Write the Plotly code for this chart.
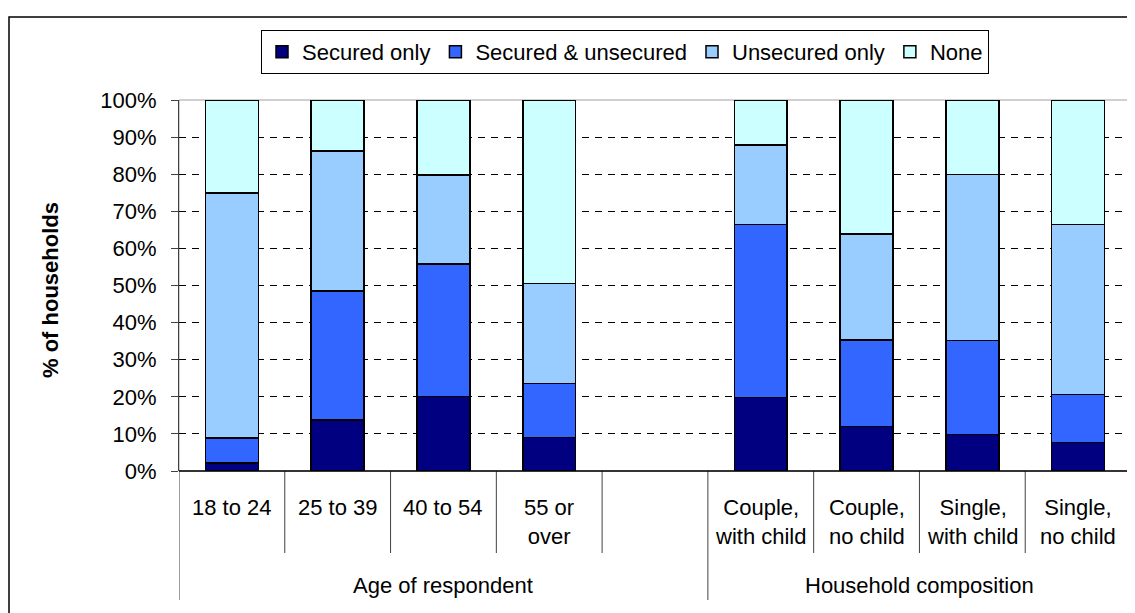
import plotly.graph_objects as go

# ---- data ----
categories = ["18 to 24", "25 to 39", "40 to 54", "55 or<br>over", "",
              "Couple,<br>with child", "Couple,<br>no child", "Single,<br>with child", "Single,<br>no child"]
groups = ["Age of respondent"] * 5 + ["Household composition"] * 4
series_names = ["Secured only", "Secured & unsecured", "Unsecured only", "None"]
secured_only = [2.1, 13.7, 20.1, 9.0, None, 19.8, 12.0, 9.8, 7.7]
secured_and_unsecured = [6.8, 34.8, 35.7, 14.6, None, 46.7, 23.3, 25.4, 12.9]
unsecured_only = [66.1, 37.7, 24.0, 27.0, None, 21.4, 28.6, 44.7, 45.9]
none_ = [25.0, 13.8, 20.2, 49.4, None, 12.1, 36.1, 20.1, 33.5]
y_ticks = [0, 10, 20, 30, 40, 50, 60, 70, 80, 90, 100]
y_tick_labels = [f"{v}%" for v in y_ticks]
y_title = "% of households"

colors = ["#000080", "#3366FF", "#99CCFF", "#CCFFFF"]
FONT = "Liberation Sans, Arial, sans-serif"
FS = 22

xs = list(range(len(categories)))
fig = go.Figure()
for name, vals, col in zip(series_names, [secured_only, secured_and_unsecured, unsecured_only, none_], colors):
    fig.add_trace(go.Bar(x=xs, y=vals, name=name, width=0.5,
                         marker=dict(color=col, line=dict(color="#000000", width=1.5))))

OFF = 8  # page body margin
W, H = 1127, 605
L, R, T, B = 171, 4, 92, 142
pw, ph = W - L - R, H - T - B

def py(pix):  # screen pixel y -> paper y
    return (H - B - (pix - OFF)) / ph

def px(pix):  # screen pixel x -> paper x
    return (pix - OFF - L) / pw

shapes = []
# outer chart frame
shapes.append(dict(type="rect", xref="paper", yref="paper", x0=px(9), y0=py(660), x1=px(1180), y1=py(17),
                   line=dict(color="#000000", width=1.5), layer="below"))
# plot area border (top/right gray)
shapes.append(dict(type="rect", xref="paper", yref="paper", x0=0, y0=0, x1=1, y1=1,
                   line=dict(color="#A0A0A0", width=1), layer="below"))
# category dividers
n = len(categories)
for i in range(n + 1):
    b = i - 0.5
    is_group_edge = (i == 0 or i == n or groups[i] != groups[i - 1])
    shapes.append(dict(type="line", xref="x", yref="paper", x0=b, x1=b, y0=0,
                       y1=py(600) if is_group_edge else py(553),
                       line=dict(color="#404040", width=1)))
# bottom axis line
shapes.append(dict(type="line", xref="paper", yref="paper", x0=0, x1=1, y0=0, y1=0,
                   line=dict(color="#000000", width=1.5)))

annotations = []
for i, c in enumerate(categories):
    if c:
        annotations.append(dict(x=i, y=py(493), xref="x", yref="paper", text=c, showarrow=False,
                                yanchor="top", xanchor="center", font=dict(size=FS, color="#000")))
# group labels
seen = []
for g in groups:
    if g not in seen:
        seen.append(g)
for g in seen:
    idx = [i for i, gg in enumerate(groups) if gg == g]
    annotations.append(dict(x=(idx[0] - 0.5 + idx[-1] + 0.5) / 2, y=py(585), xref="x", yref="paper",
                            text=g, showarrow=False, yanchor="middle", xanchor="center",
                            font=dict(size=FS, color="#000")))
# y-axis title
annotations.append(dict(x=px(50), y=py(290), xref="paper", yref="paper", text=f"<b>{y_title}</b>",
                        textangle=-90, showarrow=False, xanchor="center", yanchor="middle",
                        font=dict(size=FS, color="#000")))

fig.update_layout(
    width=W, height=H,
    margin=dict(l=L, r=R, t=T, b=B, autoexpand=False),
    barmode="stack",
    plot_bgcolor="white", paper_bgcolor="white",
    font=dict(family=FONT, size=FS, color="#000000"),
    shapes=shapes, annotations=annotations,
    showlegend=True,
    legend=dict(orientation="h", x=px(625), xanchor="center", y=py(52), yanchor="middle",
                bordercolor="#000000", borderwidth=1, bgcolor="white",
                font=dict(size=FS), itemwidth=30, traceorder="normal"),
    xaxis=dict(range=[-0.5, n - 0.5], showticklabels=False, showgrid=False, zeroline=False,
               showline=False, ticks=""),
    yaxis=dict(range=[0, 100], tickvals=y_ticks, ticktext=y_tick_labels, ticks="outside",
               ticklen=7, tickcolor="#404040", showline=True, linecolor="#404040", linewidth=1,
               showgrid=True, gridcolor="#000000", griddash="7px,6px", gridwidth=1,
               zeroline=False, ticklabelstandoff=10),
)

fig.write_html("out.html")
